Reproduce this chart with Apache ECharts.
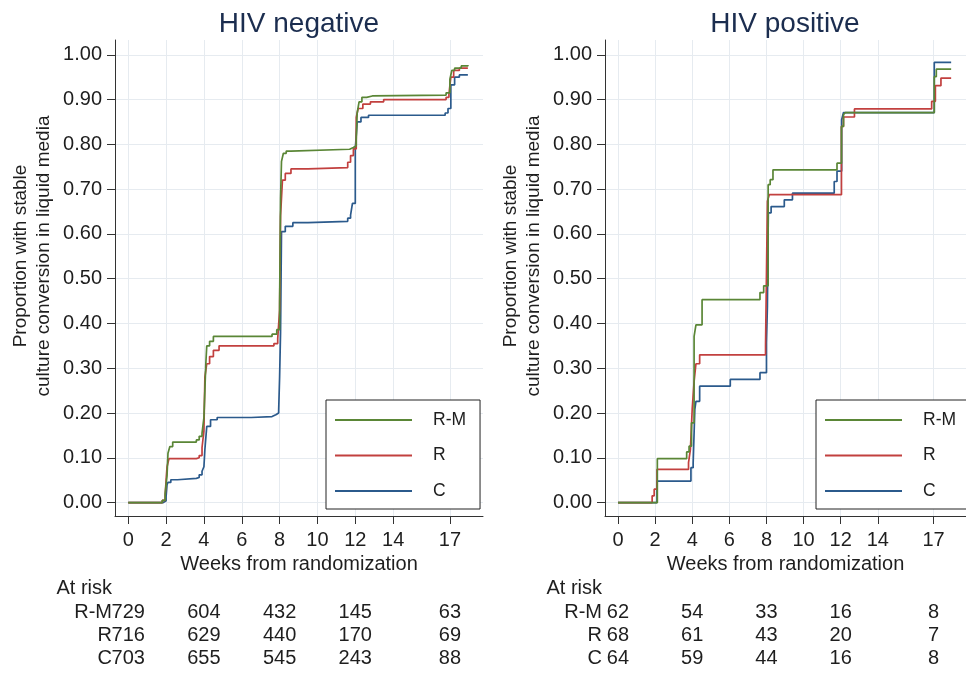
<!DOCTYPE html>
<html><head><meta charset="utf-8">
<script src="https://cdn.jsdelivr.net/npm/echarts@6/dist/echarts.min.js"></script>
<style>html,body{margin:0;padding:0;background:#fff}#c{width:966px;height:674px}</style>
</head><body><div id="c"></div>
<script>
// ---- axis ticks / labels ----
const xTicks = [0, 2, 4, 6, 8, 10, 12, 14, 17];
const yTicks = [0, 0.1, 0.2, 0.3, 0.4, 0.5, 0.6, 0.7, 0.8, 0.9, 1.0];
const panelTitles = ['HIV negative', 'HIV positive'];
const xTitle = 'Weeks from randomization';
const yTitle = 'Proportion with stable\nculture conversion in liquid media';
const armNames = ['R-M', 'R', 'C'];
const armColors = ['#5a8636', '#c2403f', '#2b5a8c'];

// ---- number at risk ----
const riskRows = ['At risk', 'R-M', 'R', 'C'];
const riskWeeks = [0, 4, 8, 12, 17];
const negRiskRM = [729, 604, 432, 145, 63];
const negRiskR  = [716, 629, 440, 170, 69];
const negRiskC  = [703, 655, 545, 243, 88];
const posRiskRM = [62, 54, 33, 16, 8];
const posRiskR  = [68, 61, 43, 20, 7];
const posRiskC  = [64, 59, 44, 16, 8];

// ---- cumulative proportion curves [week, proportion] ----
const negRM = [[0,0],[1.8,0.005],[1.95,0.02],[2.05,0.06],[2.1,0.11],[2.2,0.125],[2.35,0.135],[3.6,0.14],[3.75,0.148],[3.9,0.155],
  [4.0,0.19],[4.05,0.25],[4.1,0.31],[4.15,0.35],[4.3,0.36],[4.5,0.371],[7.6,0.376],[7.85,0.386],[8.0,0.446],[8.05,0.68],
  [8.1,0.762],[8.2,0.78],[8.35,0.785],[8.6,0.789],[11.7,0.793],[11.9,0.797],[12.05,0.81],[12.1,0.87],[12.2,0.895],[12.35,0.905],
  [12.6,0.908],[12.9,0.91],[16.8,0.915],[17.0,0.945],[17.1,0.965],[17.25,0.97],[17.6,0.975],[17.95,0.977]];
const negR = [[0,0],[1.8,0.005],[1.95,0.015],[2.0,0.05],[2.05,0.08],[2.15,0.098],[3.6,0.1],[3.75,0.105],[3.9,0.123],[4.0,0.16],
  [4.05,0.28],[4.15,0.31],[4.3,0.326],[4.5,0.34],[4.8,0.35],[7.7,0.355],[7.9,0.366],[8.0,0.43],[8.05,0.64],[8.15,0.72],
  [8.3,0.735],[8.6,0.745],[9.5,0.748],[11.6,0.76],[11.75,0.775],[11.9,0.79],[12.05,0.86],[12.15,0.88],[12.4,0.89],[12.8,0.895],
  [13.5,0.9],[16.8,0.905],[16.95,0.912],[17.05,0.95],[17.2,0.965],[17.5,0.97],[17.95,0.97]];
const negC = [[0,0],[1.85,0.004],[2.0,0.013],[2.05,0.04],[2.1,0.045],[2.25,0.051],[2.6,0.054],[3.6,0.056],[3.75,0.062],[3.9,0.07],
  [4.0,0.08],[4.05,0.118],[4.15,0.17],[4.35,0.185],[4.7,0.19],[6.5,0.192],[7.6,0.196],[7.8,0.2],[7.95,0.205],[8.0,0.28],
  [8.05,0.38],[8.1,0.605],[8.3,0.617],[8.7,0.625],[9.5,0.628],[11.6,0.635],[11.75,0.642],[11.85,0.668],[12.0,0.79],[12.1,0.85],
  [12.3,0.86],[12.7,0.865],[16.75,0.87],[16.9,0.88],[17.05,0.933],[17.25,0.95],[17.5,0.955],[17.95,0.955]];
const posRM = [[0,0],[2.12,0.098],[3.7,0.113],[3.83,0.126],[3.96,0.178],[4.1,0.371],[4.2,0.397],[4.53,0.453],[7.65,0.469],[7.85,0.484],
  [8.09,0.71],[8.2,0.721],[8.35,0.743],[11.8,0.758],[12.04,0.84],[12.15,0.866],[12.25,0.871],[17.04,0.951],[17.15,0.968],[17.95,0.968]];
const posR = [[0,0],[1.84,0.015],[1.95,0.03],[2.1,0.074],[3.8,0.089],[3.9,0.118],[4.0,0.21],[4.1,0.27],[4.2,0.31],[4.4,0.33],
  [7.95,0.352],[8.05,0.673],[8.15,0.6875],[12.04,0.84],[12.15,0.861],[12.74,0.879],[16.9,0.896],[17.1,0.931],[17.4,0.948],[17.95,0.948]];
const posC = [[0,0],[2.1,0.048],[3.93,0.078],[4.05,0.089],[4.14,0.208],[4.2,0.226],[4.4,0.26],[6.05,0.275],[7.65,0.29],[8.0,0.357],
  [8.05,0.438],[8.1,0.647],[8.25,0.661],[8.96,0.676],[9.4,0.691],[11.65,0.717],[11.8,0.74],[12.05,0.855],[12.15,0.871],[17.04,0.983],[17.95,0.983]];

const FONT = 'Liberation Sans, Arial, Helvetica, sans-serif';
const TXT = '#1e1e1e';
const GRIDC = '#e6ebf0';
const XMIN = -0.70, XMAX = 18.75, YMIN = -0.03, YMAX = 1.033;
const plotLefts = [115, 605];

const chart = echarts.init(document.getElementById('c'), null, {renderer: 'canvas'});

const grids = [], xAxes = [], yAxes = [], series = [], legends = [], graphics = [];
const curves = [[negRM, negR, negC], [posRM, posR, posC]];
const risks = [[negRiskRM, negRiskR, negRiskC], [posRiskRM, posRiskR, posRiskC]];

for (let p = 0; p < 2; p++) {
  const L = plotLefts[p];
  grids.push({left: L, top: 40, width: 368, height: 476, containLabel: false});
  xAxes.push({
    gridIndex: p, type: 'value', min: XMIN, max: XMAX,
    name: xTitle, nameLocation: 'middle', nameGap: 36,
    nameTextStyle: {fontFamily: FONT, fontSize: 20, color: TXT},
    axisLine: {show: true, onZero: false, lineStyle: {color: '#333', width: 1}},
    axisTick: {show: true, length: 8, customValues: xTicks, lineStyle: {color: '#333'}},
    axisLabel: {customValues: xTicks, fontFamily: FONT, fontSize: 20, color: TXT, margin: 14},
    splitLine: {show: true, lineStyle: {color: GRIDC, width: 1}}
  });
  yAxes.push({
    gridIndex: p, type: 'value', min: YMIN, max: YMAX,
    axisLine: {show: true, onZero: false, lineStyle: {color: '#333', width: 1}},
    axisTick: {show: true, length: 8, customValues: yTicks, lineStyle: {color: '#333'}},
    axisLabel: {customValues: yTicks, fontFamily: FONT, fontSize: 20, color: TXT, margin: 13,
      formatter: v => Number(v).toFixed(2)},
    splitLine: {show: true, lineStyle: {color: GRIDC, width: 1}}
  });
}
// at-risk table grids
for (let p = 0; p < 2; p++) {
  const L = plotLefts[p];
  grids.push({left: L, top: 577.3, width: 368, height: 93.3});
  xAxes.push({gridIndex: 2 + p, type: 'value', min: XMIN, max: XMAX, show: false});
  yAxes.push({
    gridIndex: 2 + p, type: 'category', data: riskRows, inverse: true,
    axisLine: {show: false}, axisTick: {show: false}, splitLine: {show: false},
    axisLabel: {interval: 0, fontFamily: FONT, fontSize: 20, color: TXT, margin: 3}
  });
}

for (let p = 0; p < 2; p++) {
  for (let a = 2; a >= 0; a--) {
    series.push({
      name: armNames[a], type: 'line', step: 'end', xAxisIndex: p, yAxisIndex: p,
      data: curves[p][a], showSymbol: false, symbol: 'none', clip: true,
      color: armColors[a],
      lineStyle: {color: armColors[a], width: 1.7},
      itemStyle: {color: armColors[a]},
      z: 3 + (2 - a)
    });
  }
  for (let a = 0; a < 3; a++) {
    series.push({
      name: 'risk-' + p + '-' + a, type: 'scatter', xAxisIndex: 2 + p, yAxisIndex: 2 + p,
      data: riskWeeks.map((w, i) => [w, armNames[a], risks[p][a][i]]),
      symbolSize: 1, itemStyle: {color: 'transparent'}, silent: true,
      label: {show: true, position: 'inside', formatter: q => String(q.value[2]),
        fontFamily: FONT, fontSize: 20, color: TXT, opacity: 1,
        textBorderWidth: 0, textBorderColor: 'transparent'}
    });
  }
  legends.push({
    data: armNames, orient: 'vertical', left: plotLefts[p] + 211, top: 400,
    icon: 'rect', itemWidth: 77, itemHeight: 2, itemGap: 17.5,
    selectedMode: false, borderColor: '#222', borderWidth: 1, backgroundColor: '#fff',
    padding: [11, 14, 9, 9],
    textStyle: {fontFamily: FONT, fontSize: 17.5, color: TXT, padding: [0, 0, 0, 16]}
  });
  graphics.push({
    type: 'text', x: [299, 785][p], y: 24,
    style: {text: panelTitles[p], align: 'center', verticalAlign: 'middle',
      fontFamily: FONT, fontSize: 28, fill: '#1b2d4f'}
  });
  graphics.push({
    type: 'text', x: [32, 522][p], y: 256, rotation: Math.PI / 2,
    style: {text: yTitle, align: 'center', verticalAlign: 'middle',
      fontFamily: FONT, fontSize: 19, lineHeight: 23, fill: TXT}
  });
}

chart.setOption({
  animation: false,
  backgroundColor: '#fff',
  grid: grids, xAxis: xAxes, yAxis: yAxes,
  legend: legends, series: series, graphic: graphics
});
</script></body></html>
